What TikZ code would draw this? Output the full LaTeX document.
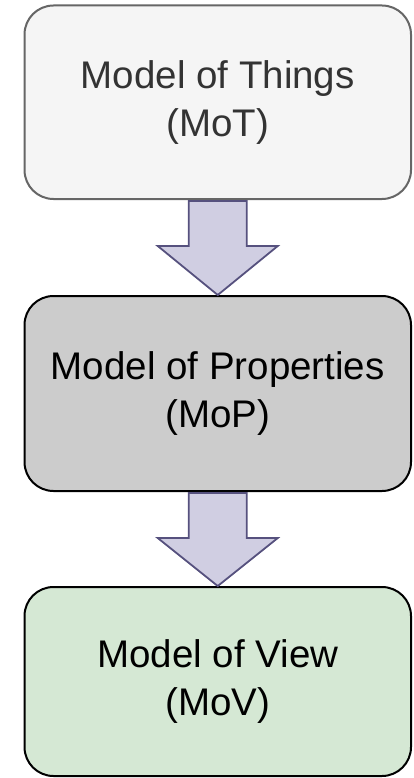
\documentclass[tikz,border=0pt]{standalone}
\usepackage{fontspec}
\setmainfont{Liberation Sans}
\usetikzlibrary{calc}

\definecolor{thingsfill}{HTML}{F5F5F5}
\definecolor{thingsline}{HTML}{666666}
\definecolor{thingstext}{HTML}{333333}
\definecolor{propsfill}{HTML}{CCCCCC}
\definecolor{viewfill}{HTML}{D5E8D4}
\definecolor{arrowfill}{HTML}{D0CEE2}
\definecolor{arrowline}{HTML}{56517E}

\begin{document}
\begin{tikzpicture}[x=1pt, y=-1pt,
  modelbox/.style={rounded corners=29pt, line width=2pt,
    minimum width=386.5pt, align=center, inner sep=0pt,
    font=\fontsize{38.5}{48}\selectfont},
  flowarrow/.style={fill=arrowfill, draw=arrowline, line width=1.8pt,
    line join=miter}]

  % page frame
  \useasboundingbox (0,0) rectangle (414,778);

  % the three model layers
  \node[modelbox, fill=thingsfill, draw=thingsline, text=thingstext,
        minimum height=193.5pt] (mot) at (217.75,102.25)
        {Model of Things\\(MoT)};
  \node[modelbox, fill=propsfill, draw=black,
        minimum height=195pt] (mop) at (217.75,393.5)
        {Model of Properties\\(MoP)};
  \node[modelbox, fill=viewfill, draw=black,
        minimum height=189pt] (mov) at (217.75,681.5)
        {Model of View\\(MoV)};

  % block arrows between the layers
  \foreach \src/\dst in {mot/mop, mop/mov} {
    \draw[flowarrow]
      ($(\src.south)+(-29,1)$) -- ($(\src.south)+(-29,46)$)
      -- ($(\src.south)+(-60,46)$) -- (\dst.north)
      -- ($(\src.south)+(60,46)$) -- ($(\src.south)+(29,46)$)
      -- ($(\src.south)+(29,1)$) -- cycle;
  }
\end{tikzpicture}
\end{document}
